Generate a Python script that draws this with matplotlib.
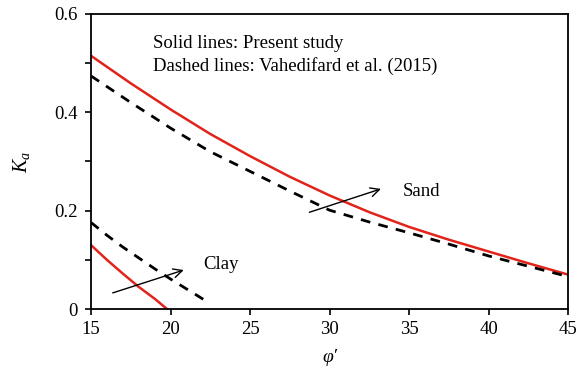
import matplotlib
matplotlib.use("Agg")
import matplotlib.pyplot as plt
from matplotlib.ticker import MultipleLocator

plt.rcParams["font.family"] = ["Liberation Serif", "DejaVu Serif"]
plt.rcParams["mathtext.fontset"] = "custom"
plt.rcParams["mathtext.rm"] = "Liberation Serif"
plt.rcParams["mathtext.it"] = "Liberation Serif:italic"

# Friction angle (deg) and active earth pressure coefficient
phi_sand = [15, 17.5, 20, 22.5, 25, 27.5, 30, 32.5, 35, 37.5, 40, 42.5, 45]
ka_sand_present = [0.515, 0.459, 0.406, 0.356, 0.311, 0.269, 0.231, 0.197,
                   0.167, 0.141, 0.117, 0.093, 0.070]
ka_sand_vahedifard = [0.474, 0.420, 0.368, 0.320, 0.280, 0.240, 0.201, 0.177,
                      0.155, 0.132, 0.108, 0.087, 0.066]

phi_clay_present = [15, 16, 17, 18, 19, 19.78]
ka_clay_present = [0.130, 0.100, 0.072, 0.045, 0.021, 0.0]
phi_clay_vahedifard = [15, 16, 17, 18, 19, 20, 21, 22, 22.5]
ka_clay_vahedifard = [0.176, 0.150, 0.126, 0.104, 0.082, 0.061, 0.041, 0.021, 0.011]

red = "#E2231A"
dash = (0, (3.5, 3))
fs = 13.5

fig = plt.figure(figsize=(5.79, 3.67), dpi=100)
ax = fig.add_axes([91 / 579, 1 - 309 / 367, (568 - 91) / 579, (309 - 14) / 367])

ax.plot(phi_sand, ka_sand_present, color=red, lw=1.8, solid_joinstyle="round")
ax.plot(phi_sand, ka_sand_vahedifard, color="black", lw=2.0, linestyle=dash)
ax.plot(phi_clay_present, ka_clay_present, color=red, lw=1.8, solid_joinstyle="round")
ax.plot(phi_clay_vahedifard, ka_clay_vahedifard, color="black", lw=2.0, linestyle=dash)

ax.set_xlim(15, 45)
ax.set_ylim(0, 0.6)
ax.xaxis.set_major_locator(MultipleLocator(5))
ax.yaxis.set_minor_locator(MultipleLocator(0.1))
ax.set_yticks([0, 0.2, 0.4, 0.6])
ax.set_yticklabels(["0", "0.2", "0.4", "0.6"])

ax.tick_params(axis="both", which="both", direction="out", labelsize=fs,
               width=1.2, top=False, right=False)
ax.tick_params(axis="both", which="major", length=4.5)
ax.tick_params(axis="y", which="minor", length=4.5)
ax.tick_params(axis="y", pad=5)
ax.tick_params(axis="x", pad=4)
for s in ax.spines.values():
    s.set_linewidth(1.3)

ax.set_xlabel("φ′", fontsize=fs + 0.5, style="italic", labelpad=8)
ax.set_ylabel(r"$K_a$", fontsize=fs + 1, labelpad=16)

ax.text(18.9, 0.54, "Solid lines: Present study", fontsize=fs, va="center")
ax.text(18.9, 0.495, "Dashed lines: Vahedifard et al. (2015)", fontsize=fs, va="center")

arrow = dict(arrowstyle="->", color="black", lw=1.0, mutation_scale=16)
ax.annotate("", xy=(33.4, 0.246), xytext=(28.57, 0.195), arrowprops=arrow)
ax.text(34.6, 0.239, "Sand", fontsize=fs, va="center")
ax.annotate("", xy=(21.0, 0.081), xytext=(16.2, 0.031), arrowprops=arrow)
ax.text(22.05, 0.09, "Clay", fontsize=fs, va="center")

fig.savefig("out.png", dpi=100)
